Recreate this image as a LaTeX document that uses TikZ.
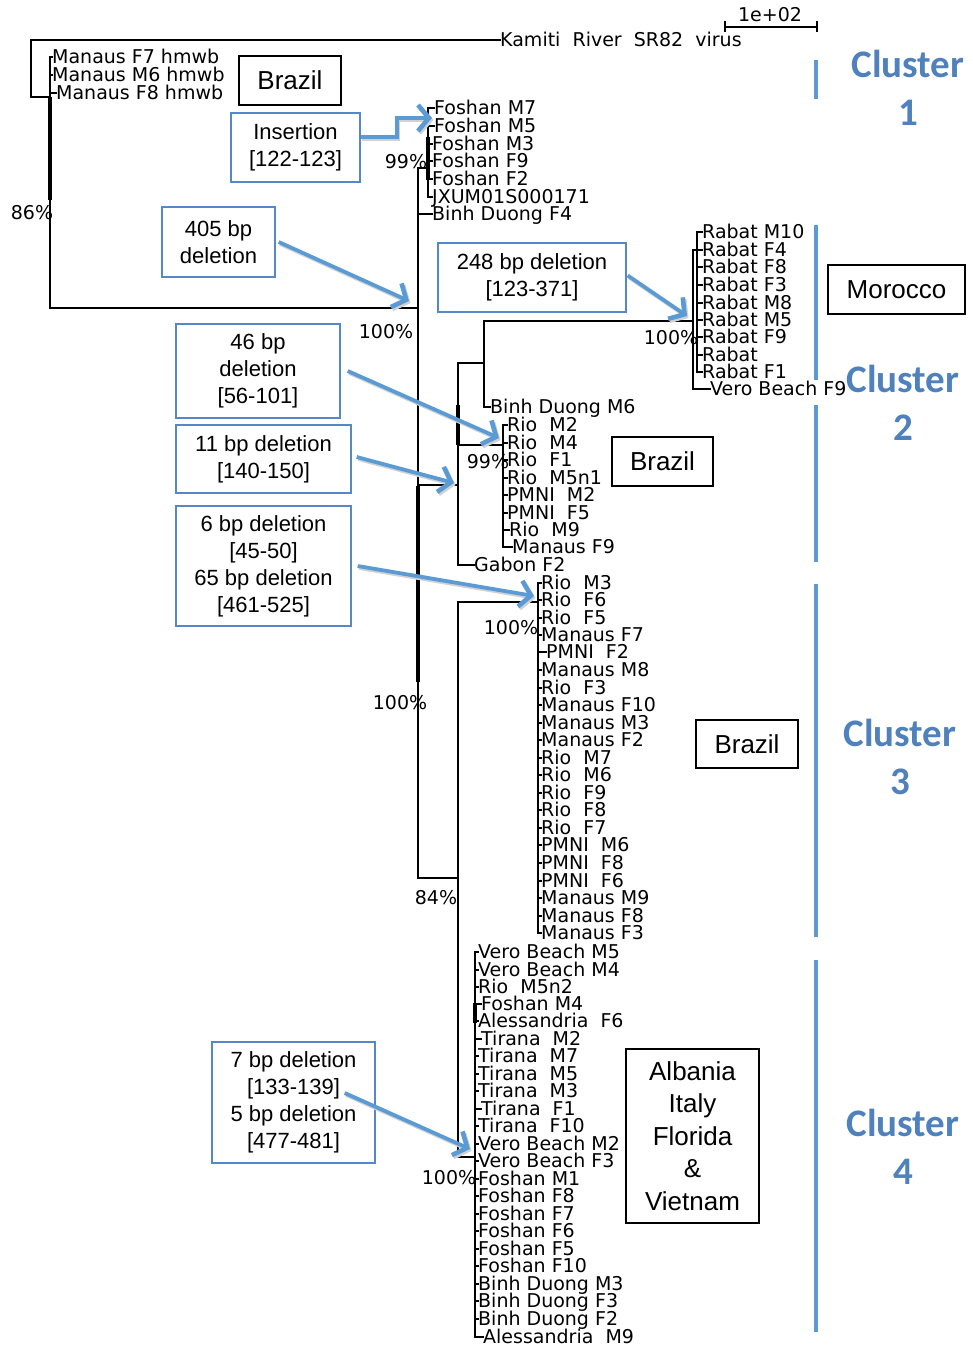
\documentclass[tikz,border=0pt]{standalone}
\usepackage{fontspec}
\usetikzlibrary{arrows.meta,calc}
\newfontfamily\leaffont{DejaVu Sans}
\newfontfamily\boxfont{Liberation Sans}
\newfontfamily\clfont{Carlito}
\definecolor{lineblue}{RGB}{91,155,213}
\definecolor{textblue}{RGB}{79,129,189}
\definecolor{boxblue}{RGB}{84,136,200}
\tikzset{
  tree/.style={draw=black, line width=1.6pt, line cap=rect},
  thicktree/.style={draw=black, line width=3.6pt},
  leaf/.style={anchor=west, inner sep=0pt, text height=13.5pt, text depth=0pt,
    font=\leaffont\fontsize{19}{19}\selectfont},
  pct/.style={inner sep=0pt, font=\leaffont\fontsize{19}{19}\selectfont},
  bbox/.style={draw=boxblue, line width=1.4pt, inner sep=0pt, align=center,
    font=\boxfont\fontsize{22}{27}\selectfont},
  kbox/.style={draw=black, line width=1.8pt, inner sep=0pt, align=center,
    font=\boxfont\fontsize{26}{32.5}\selectfont},
  clabel/.style={inner sep=0pt, align=center, text=textblue,
    font=\clfont\bfseries\fontsize{39}{47.5}\selectfont},
  cline/.style={draw=lineblue, line width=4pt},
  barrow/.style={draw=lineblue, line width=3.8pt,
    -{Straight Barb[length=11pt,width=26pt,line width=4.6pt]}},
  ashadow/.style={draw=black!18, line width=3.8pt,
    -{Straight Barb[length=11pt,width=26pt,line width=4.6pt]},
    transform canvas={shift={(1.5pt,-2pt)}}},
}
\newcommand\lf[5]{%
  \node[leaf] (#1) at (#3,#4) {#5};
  \draw[tree] (#2 |- #1.west) -- (#1.west);}
\newcommand\blueArrow[2]{%
  \draw[ashadow] #1 -- #2;
  \draw[barrow] #1 -- #2;}
\begin{document}
\begin{tikzpicture}[x=1pt,y=-1pt]
\useasboundingbox (0,0) rectangle (973,1348);
\fill[white] (0,0) rectangle (973,1348);

% ---------- internal coordinates ----------
\coordinate (n0) at (31,97);
\coordinate (vA) at (50,97);
\coordinate (n1) at (50,308);
\coordinate (vB) at (418,308);
\coordinate (nF) at (418,168);
\coordinate (vF) at (428,168);
\coordinate (n2) at (418,485);
\coordinate (vC) at (458,485);
\coordinate (vD) at (484,363);
\coordinate (vE) at (693,321);
\coordinate (vE2) at (697,250);
\coordinate (vG) at (503,445);
\coordinate (n3) at (418,878);
\coordinate (vH) at (458,878);
\coordinate (vI) at (538,602);
\coordinate (vJ) at (475,1157);

% ---------- outgroup ----------
\node[leaf] (kam) at (500,40) {Kamiti~~River~~SR82~~virus};
\draw[tree] (kam.west) -| (n0) -- (vA);

\lf{mf7}{vA}{52}{57}{Manaus F7 hmwb}
\lf{mm6}{vA}{52}{75}{Manaus M6 hmwb}
\lf{mf8}{vA}{56}{93}{Manaus F8 hmwb}
\draw[tree] (vA |- mf7.west) -- (n1);
\draw[thicktree] (vA) -- (vA |- 0,200);
\draw[tree] (n1) -- (vB);

% ---------- main node ----------
\draw[tree] (vB |- nF) -- (vB |- n3);
\draw[thicktree] (vB |- 0,486) -- (vB |- 0,682);

% Foshan clade
\draw[tree] (nF) -- (vF);
\lf{fm7}{vF}{434}{108}{Foshan M7}
\lf{fm5}{vF}{434}{126}{Foshan M5}
\lf{fm3}{vF}{432}{144}{Foshan M3}
\lf{ff9}{vF}{432}{161}{Foshan F9}
\lf{ff2}{vF}{432}{179}{Foshan F2}
\lf{jx}{vF}{432}{197}{JXUM01S000171}
\draw[tree] (vF |- fm7.west) -- (vF |- jx.west);
\draw[thicktree] (vF |- 0,137) -- (vF |- 0,180);
\lf{bdf4}{vB}{432}{214}{Binh Duong F4}

% ---------- cluster 2 ----------
\draw[tree] (n2) -- (vC);
\draw[tree] (vC |- vD) -- (vC |- 0,565);
\draw[thicktree] (vC |- 0,405) -- (vC |- vG);
\draw[tree] (vC |- vD) -- (vD);
\draw[tree] (vD |- vE) -- (vD |- 0,407);
\draw[tree] (vD |- vE) -- (vE);
\draw[tree] (vE |- vE2) -- (vE |- 0,389);
\draw[tree] (vE |- vE2) -- (vE2);
\lf{rm10}{vE2}{702}{232}{Rabat M10}
\lf{rf4}{vE2}{702}{250}{Rabat F4}
\lf{rf8}{vE2}{702}{267}{Rabat F8}
\lf{rf3}{vE2}{702}{285}{Rabat F3}
\lf{rm8}{vE2}{702}{303}{Rabat M8}
\lf{rm5}{vE2}{702}{320}{Rabat M5}
\lf{rf9}{vE2}{702}{337}{Rabat F9}
\lf{rab}{vE2}{702}{355}{Rabat}
\lf{rf1}{vE2}{702}{372}{Rabat F1}
\draw[tree] (vE2 |- rm10.west) -- (vE2 |- rf1.west);
\lf{vbf9}{vE}{710}{389}{Vero Beach F9}
\lf{bdm6}{vD}{490}{407}{Binh Duong M6}

\draw[tree] (vC |- vG) -- (vG);
\lf{rio1}{vG}{507}{425}{Rio~~M2}
\lf{rio2}{vG}{507}{443}{Rio~~M4}
\lf{rio3}{vG}{507}{460}{Rio~~F1}
\lf{rio4}{vG}{507}{478}{Rio~~M5n1}
\lf{rio5}{vG}{507}{495}{PMNI~~M2}
\lf{rio6}{vG}{507}{513}{PMNI~~F5}
\lf{rio7}{vG}{509}{530}{Rio~~M9}
\lf{rio8}{vG}{512}{547}{Manaus F9}
\draw[tree] (vG |- rio1.west) -- (vG |- rio8.west);
\lf{gab}{vC}{474}{565}{Gabon F2}

% ---------- cluster 3 ----------
\draw[tree] (n3) -- (vH);
\draw[tree] (vH |- vI) -- (vH |- vJ);
\draw[tree] (vH |- vI) -- (vI);
\lf{c3a}{vI}{541}{583}{Rio~~M3}
\lf{c3b}{vI}{541}{600}{Rio~~F6}
\lf{c3c}{vI}{541}{618}{Rio~~F5}
\lf{c3d}{vI}{541}{635}{Manaus F7}
\lf{c3e}{vI}{546}{652}{PMNI~~F2}
\lf{c3f}{vI}{541}{670}{Manaus M8}
\lf{c3g}{vI}{541}{688}{Rio~~F3}
\lf{c3h}{vI}{541}{705}{Manaus F10}
\lf{c3i}{vI}{541}{723}{Manaus M3}
\lf{c3j}{vI}{541}{740}{Manaus F2}
\lf{c3k}{vI}{541}{758}{Rio~~M7}
\lf{c3l}{vI}{541}{775}{Rio~~M6}
\lf{c3m}{vI}{541}{793}{Rio~~F9}
\lf{c3n}{vI}{541}{810}{Rio~~F8}
\lf{c3o}{vI}{541}{828}{Rio~~F7}
\lf{c3p}{vI}{541}{845}{PMNI~~M6}
\lf{c3q}{vI}{541}{863}{PMNI~~F8}
\lf{c3r}{vI}{541}{881}{PMNI~~F6}
\lf{c3s}{vI}{541}{898}{Manaus M9}
\lf{c3t}{vI}{541}{916}{Manaus F8}
\lf{c3u}{vI}{541}{933}{Manaus F3}
\draw[tree] (vI |- c3a.west) -- (vI |- c3u.west);

% ---------- cluster 4 ----------
\draw[tree] (vH |- vJ) -- (vJ);
\lf{d1}{vJ}{478}{952}{Vero Beach M5}
\lf{d2}{vJ}{478}{970}{Vero Beach M4}
\lf{d3}{vJ}{478}{987}{Rio~~M5n2}
\lf{d4}{vJ}{481}{1004}{Foshan M4}
\lf{d5}{vJ}{478}{1021}{Alessandria~~F6}
\lf{d6}{vJ}{481}{1039}{Tirana~~M2}
\lf{d7}{vJ}{478}{1056}{Tirana~~M7}
\lf{d8}{vJ}{478}{1074}{Tirana~~M5}
\lf{d9}{vJ}{478}{1091}{Tirana~~M3}
\lf{d10}{vJ}{481}{1109}{Tirana~~F1}
\lf{d11}{vJ}{478}{1126}{Tirana~~F10}
\lf{d12}{vJ}{478}{1144}{Vero Beach M2}
\lf{d13}{vJ}{478}{1161}{Vero Beach F3}
\lf{d14}{vJ}{478}{1179}{Foshan M1}
\lf{d15}{vJ}{478}{1196}{Foshan F8}
\lf{d16}{vJ}{478}{1214}{Foshan F7}
\lf{d17}{vJ}{478}{1231}{Foshan F6}
\lf{d18}{vJ}{478}{1249}{Foshan F5}
\lf{d19}{vJ}{478}{1266}{Foshan F10}
\lf{d20}{vJ}{478}{1284}{Binh Duong M3}
\lf{d21}{vJ}{478}{1301}{Binh Duong F3}
\lf{d22}{vJ}{478}{1319}{Binh Duong F2}
\lf{d23}{vJ}{483}{1337}{Alessandria~~M9}
\draw[tree] (vJ |- d1.west) -- (vJ |- d23.west);
\draw[thicktree] (vJ |- 0,1003) -- (vJ |- 0,1023);

% ---------- support values ----------
\node[pct] (p86) at (32,213) {86\%};
\node[pct] (p99a) at (406,162) {99\%};
\node[pct] (p100a) at (386,332) {100\%};
\node[pct] (p100b) at (671,338) {100\%};
\node[pct] (p99b) at (488,462) {99\%};
\node[pct] (p100c) at (511,628) {100\%};
\node[pct] (p100d) at (400,703) {100\%};
\node[pct] (p84) at (436,898) {84\%};
\node[pct] (p100e) at (449,1178) {100\%};

% ---------- scale bar ----------
\coordinate (sb1) at (725,27);
\coordinate (sb2) at (817,27);
\draw[tree, line cap=butt] (sb1) -- (sb2);
\draw[tree, line cap=butt] ([yshift=5.5pt]sb1) -- ([yshift=-5.5pt]sb1);
\draw[tree, line cap=butt] ([yshift=5.5pt]sb2) -- ([yshift=-5.5pt]sb2);
\node[pct] (sbl) at (770,15) {1e+02};

% ---------- country boxes ----------
\node[kbox, minimum width=102pt, minimum height=49pt] (bra1) at (290,80.5) {Brazil};
\node[kbox, minimum width=137pt, minimum height=49pt] (mor) at (896.5,289.5) {Morocco};
\node[kbox, minimum width=101pt, minimum height=49pt] (bra2) at (662.5,461.5) {Brazil};
\node[kbox, minimum width=102pt, minimum height=48pt] (bra3) at (747,744) {Brazil};
\node[kbox, minimum width=133pt, minimum height=174pt] (alb) at (692.5,1136) {Albania\\Italy\\Florida\\\&\\Vietnam};

% ---------- mutation boxes ----------
\node[bbox, minimum width=129pt, minimum height=69pt] (ins) at (295.5,147.5) {Insertion\\{}[122-123]};
\node[bbox, minimum width=113pt, minimum height=70pt] (d405) at (218.5,242) {405 bp\\deletion};
\node[bbox, minimum width=188pt, minimum height=69pt] (d248) at (532,277.5) {248 bp deletion\\{}[123-371]};
\node[bbox, minimum width=164pt, minimum height=94pt] (d46) at (258,371) {46 bp\\deletion\\{}[56-101]};
\node[bbox, minimum width=175pt, minimum height=68pt] (d11) at (263.5,459) {11 bp deletion\\{}[140-150]};
\node[bbox, minimum width=175pt, minimum height=120pt] (d6) at (263.5,566) {6 bp deletion\\{}[45-50]\\65 bp deletion\\{}[461-525]};
\node[bbox, minimum width=163pt, minimum height=121pt] (d7) at (293.5,1102.5) {7 bp deletion\\{}[133-139]\\5 bp deletion\\{}[477-481]};

% ---------- arrows ----------
\coordinate (tIns) at (432,118);
\coordinate (t405) at (409,301);
\coordinate (t248) at (687,316);
\coordinate (t46) at (499,438);
\coordinate (t11) at (454,483);
\coordinate (t6) at (534,596);
\coordinate (t7) at (470,1149);
\draw[ashadow] ([yshift=10.5pt]ins.east) -- ++(36,0) |- (tIns);
\draw[barrow] ([yshift=10.5pt]ins.east) -- ++(36,0) |- (tIns);
\blueArrow{([xshift=3pt]d405.east)}{(t405)}
\blueArrow{([xshift=1pt,yshift=2pt]d248.east)}{(t248)}
\blueArrow{([xshift=7pt]d46.east)}{(t46)}
\blueArrow{([xshift=5pt,yshift=2pt]d11.east)}{(t11)}
\blueArrow{([xshift=6pt]d6.east)}{(t6)}
\blueArrow{([xshift=-31pt,yshift=9.5pt]d7.east)}{(t7)}

% ---------- cluster bars and labels ----------
\draw[cline] (816,60) -- (816,99);
\draw[cline] (816,225) -- (816,380);
\draw[cline] (816,405) -- (816,562);
\draw[cline] (816,584) -- (816,937);
\draw[cline] (816,960) -- (816,1332);
\node[clabel] (cl1) at (908,88) {Cluster\\1};
\node[clabel] (cl2) at (903,403) {Cluster\\2};
\node[clabel] (cl3) at (900,757) {Cluster\\3};
\node[clabel] (cl4) at (903,1147) {Cluster\\4};
\end{tikzpicture}
\end{document}
